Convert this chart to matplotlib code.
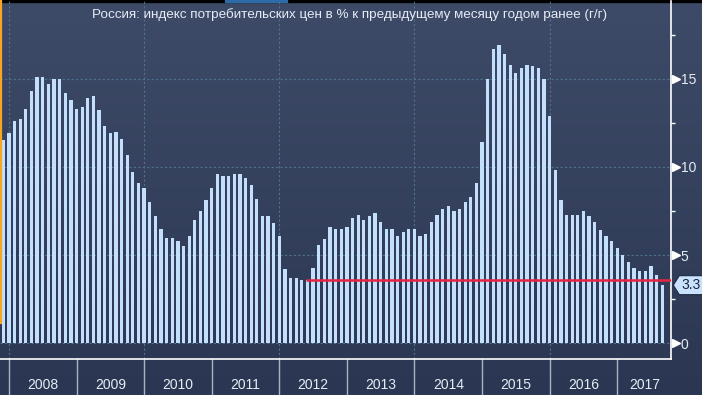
import numpy as np
import matplotlib
matplotlib.use("Agg")
import matplotlib.pyplot as plt
import matplotlib.transforms as mtransforms
from matplotlib.colors import LinearSegmentedColormap
from matplotlib.patches import Polygon, Rectangle

# Russia CPI, % y/y, monthly from Nov 2007 to Aug 2017
first_year, first_month = 2007, 11
cpi = [11.5, 11.9,
       12.6, 12.7, 13.3, 14.3, 15.1, 15.1, 14.7, 15.0, 15.0, 14.2, 13.8, 13.3,
       13.4, 13.9, 14.0, 13.2, 12.3, 11.9, 12.0, 11.6, 10.7, 9.7, 9.1, 8.8,
       8.0, 7.2, 6.5, 6.0, 6.0, 5.8, 5.5, 6.1, 7.0, 7.5, 8.1, 8.8,
       9.6, 9.5, 9.5, 9.6, 9.6, 9.4, 9.0, 8.2, 7.2, 7.2, 6.8, 6.1,
       4.2, 3.7, 3.7, 3.6, 3.6, 4.3, 5.6, 5.9, 6.6, 6.5, 6.5, 6.6,
       7.1, 7.3, 7.0, 7.2, 7.4, 6.9, 6.5, 6.5, 6.1, 6.3, 6.5, 6.5,
       6.1, 6.2, 6.9, 7.3, 7.6, 7.8, 7.5, 7.6, 8.0, 8.3, 9.1, 11.4,
       15.0, 16.7, 16.9, 16.4, 15.8, 15.3, 15.6, 15.8, 15.7, 15.6, 15.0, 12.9,
       9.8, 8.1, 7.3, 7.3, 7.3, 7.5, 7.2, 6.9, 6.4, 6.1, 5.8, 5.4,
       5.0, 4.6, 4.3, 4.1, 4.1, 4.4, 3.9, 3.3]
years = [2008, 2009, 2010, 2011, 2012, 2013, 2014, 2015, 2016, 2017]
grid_years = [2008, 2010, 2012, 2014, 2016]
y_major = [0, 5, 10, 15]
y_minor = [2.5, 7.5, 12.5, 17.5]
red_level = 3.6          # April 2012 low
red_start = (2012, 5)
last_label = "3.3"
title = "Россия: индекс потребительских цен в % к предыдущему месяцу годом ранее (г/г)"


def month_index(y, m):
    return (y - first_year) * 12 + (m - first_month)


W, H = 702, 395
fg = "#e6ecf5"
bar_color = "#c3dffc"
grid_color = "#4f7190"
font = "Liberation Sans"

fig = plt.figure(figsize=(W / 100, H / 100), dpi=100)

# gradient background
bg = fig.add_axes([0, 0, 1, 1], zorder=0)
cmap = LinearSegmentedColormap.from_list("bg", ["#3e4b68", "#2b3752"])
bg.imshow(np.linspace(0, 1, 256).reshape(-1, 1), cmap=cmap, aspect="auto",
          extent=[0, 1, 0, 1])
bg.axis("off")

ax_bottom_px, ax_top_px, ax_right_px = 359.3, 1.0, 671.3
ax = fig.add_axes([0, (H - ax_bottom_px) / H, ax_right_px / W,
                   (ax_bottom_px - ax_top_px) / H], zorder=1)
ax.set_facecolor("none")

x = np.arange(len(cpi))
xmin, xmax = -0.59, 118.6
ax.set_xlim(xmin, xmax)
ax.set_ylim(-0.9, 19.4)

# grid
ax.hlines(y_major, xmin, xmax, colors=grid_color, linestyles=(0, (2, 2)),
          lw=0.8, zorder=1)
boundaries = {yr: month_index(yr - 1, 12) for yr in years}
ax.vlines([boundaries[yr] for yr in grid_years], -0.9, 19.4, colors=grid_color,
          linestyles=(0, (2, 2)), lw=0.8, zorder=1)

ax.bar(x, cpi, width=0.58, color=bar_color, zorder=3)

# red level line
ax.hlines(red_level, month_index(*red_start) - 0.3, xmax, color="#e8233f",
          lw=1.8, zorder=4)

# spines
for s in ["left", "top"]:
    ax.spines[s].set_visible(False)
for s in ["right", "bottom"]:
    ax.spines[s].set_color("white")
    ax.spines[s].set_linewidth(1.2)

# y axis on the right
ax.set_xticks([])
ax.yaxis.tick_right()
ax.set_yticks(y_major)
ax.set_yticks(y_minor, minor=True)
ax.tick_params(axis="y", which="major", length=0, pad=6.8, labelsize=10,
               labelcolor=fg)
ax.tick_params(axis="y", which="minor", length=3, width=1, color="white",
               direction="out")
for lab in ax.get_yticklabels():
    lab.set_fontfamily(font)

tri = mtransforms.blended_transform_factory(ax.transAxes, ax.transData)
ax.plot([1 + 4.5 / ax_right_px] * len(y_major), y_major, ls="none",
        marker=">", ms=5.5, color="white", transform=tri, clip_on=False,
        zorder=5)

# orange marker line at the left edge
ax.plot([0.001, 0.001], [0.101, 1], transform=ax.transAxes, color="#f5a623",
        lw=1.6, clip_on=False, zorder=6)

# year separators and labels below the axis
sep = mtransforms.blended_transform_factory(ax.transData, ax.transAxes)
axis_h = ax_bottom_px - ax_top_px
for i, yr in enumerate(years):
    b = boundaries[yr]
    ax.plot([b, b], [0, -(H - ax_bottom_px) / axis_h], transform=sep,
            color="#aab3c0", lw=1, clip_on=False)
    nxt = boundaries[years[i + 1]] if i + 1 < len(years) else xmax
    ax.text((b + nxt) / 2, -25.7 / axis_h, str(yr), transform=sep,
            ha="center", va="center", color=fg, fontsize=10, family=font)

# last value tag
xd, yd = ax.transData.transform((x[-1], cpi[-1]))
x0 = ax.transAxes.transform((1, 0))[0] + 2
hh = 9.5
tag = Polygon([(x0, yd), (x0 + 6, yd + hh), (W + 2, yd + hh), (W + 2, yd - hh),
               (x0 + 6, yd - hh)], closed=True, facecolor="#c9e3ff",
              edgecolor="#1d2a40", lw=0.8,
              transform=mtransforms.IdentityTransform())
fig.add_artist(tag)
fig.text(x0 + 18, yd, last_label, transform=mtransforms.IdentityTransform(),
         ha="center", va="center", color="#1a2538", fontsize=10, family=font)

# thin top strip
fig.add_artist(Rectangle((0, 1 - 1.5 / H), 1, 1.5 / H, color="black",
                         transform=fig.transFigure))
fig.add_artist(Rectangle((225 / W, 1 - 1.5 / H), 62 / W, 1.5 / H,
                         color="#2d6aa8", transform=fig.transFigure))

fig.text(350 / W, 1 - 15 / H, title, ha="center", va="center", color=fg,
         fontsize=9.7, family=font)

fig.savefig("out.png", dpi=100)
